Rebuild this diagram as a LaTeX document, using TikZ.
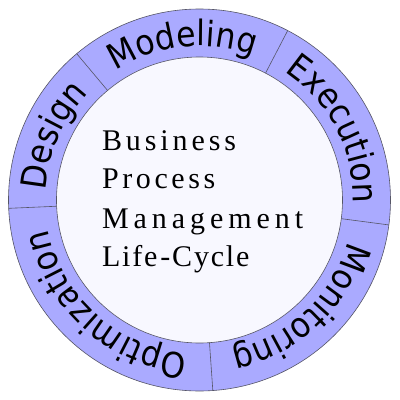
\documentclass[tikz,border=0pt]{standalone}
\usepackage{fontspec}
\setsansfont[FakeStretch=0.9]{DejaVu Sans}
\newfontfamily\ctrfont{Liberation Serif}
\usetikzlibrary{decorations.text}
\definecolor{ringfill}{HTML}{AAAAFF}
\definecolor{innerfill}{HTML}{F8F8FF}
\definecolor{edgecol}{HTML}{555566}
\newcommand{\ringfont}{\fontsize{35}{35}\selectfont\sffamily}
\tikzset{
  edge/.style={draw=edgecol, line width=0.6pt},
  ringlabel/.style={decorate, decoration={text along path, text align=center, text={|\ringfont|#1}}},
  ctrline/.style={anchor=base west, inner sep=0pt, font=\fontsize{30}{30}\selectfont\ctrfont}
}
\begin{document}
\begin{tikzpicture}[x=1pt,y=1pt]
\useasboundingbox (-199.5,-200) rectangle (200.5,200);
\coordinate (c) at (0,0);
\fill[ringfill] (c) circle[radius=191];
\fill[innerfill] (c) circle[radius=143];
\draw[edge] (c) circle[radius=191];
\draw[edge] (c) circle[radius=143];
\foreach \a in {130,62.5,-7.5,-86,182.5}{
  \draw[edge] (\a:143) -- (\a:191);
}
\path[ringlabel=Modeling] (130:154) arc[start angle=130, end angle=62.5, radius=154];
\path[ringlabel=Execution] (62.5:154) arc[start angle=62.5, end angle=-7.5, radius=154];
\path[ringlabel=Monitoring] (-7.5:154) arc[start angle=-7.5, end angle=-86, radius=154];
\path[ringlabel=Optimization] (-86:154) arc[start angle=-86, end angle=-177.5, radius=154];
\path[ringlabel=Design] (182.5:154) arc[start angle=182.5, end angle=130, radius=154];
\node[ctrline] (l1) at (-97.6,50) {\addfontfeature{LetterSpace=13}Business};
\node[ctrline] (l2) at (-97.6,11.5) {\addfontfeature{LetterSpace=12}Process};
\node[ctrline] (l3) at (-97.6,-28.3) {\addfontfeature{LetterSpace=16.5}Management};
\node[ctrline] (l4) at (-97.6,-66.7) {\addfontfeature{LetterSpace=6}Life\kern3pt-Cycle};
\end{tikzpicture}
\end{document}
